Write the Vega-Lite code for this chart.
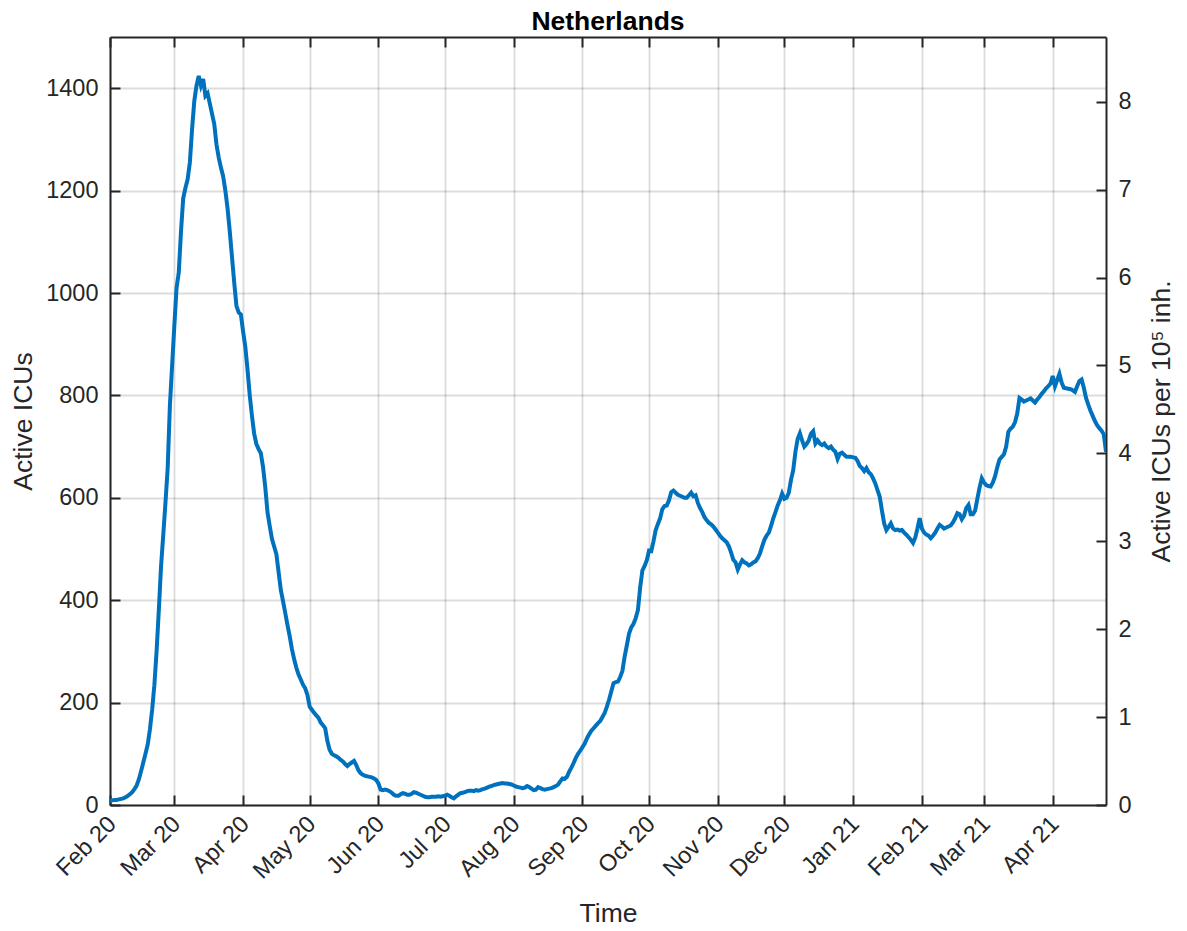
{
"$schema": "https://vega.github.io/schema/vega-lite/v6.json",
"width": 996, "height": 768,
"autosize": {"type": "none"},
"padding": {"left": 110, "top": 37, "right": 81, "bottom": 126},
"background": "white",
"title": {"text": "Netherlands", "fontSize": 26.5, "fontWeight": "bold", "font": "Liberation Sans", "color": "#000000", "anchor": "middle", "offset": 1},
"config": {
  "view": {"stroke": null},
  "axis": {"labelFont": "Liberation Sans", "titleFont": "Liberation Sans", "labelColor": "#262626", "titleColor": "#262626", "labelFontSize": 23.5, "titleFontSize": 26.5, "titleFontWeight": "normal", "domainColor": "#262626", "domainWidth": 2, "tickColor": "#262626", "tickWidth": 2, "tickSize": -10, "gridColor": "#262626", "gridOpacity": 0.16, "gridWidth": 1.8}
},
"data": {"values": [
{"t":"2020-02-01","v":8},{"t":"2020-02-02","v":9},{"t":"2020-02-03","v":10},{"t":"2020-02-04","v":10},{"t":"2020-02-05","v":11},{"t":"2020-02-06","v":12},{"t":"2020-02-07","v":13},{"t":"2020-02-08","v":15},{"t":"2020-02-09","v":18},{"t":"2020-02-10","v":21},{"t":"2020-02-11","v":25},{"t":"2020-02-12","v":31},{"t":"2020-02-13","v":38},{"t":"2020-02-14","v":50},{"t":"2020-02-15","v":66},{"t":"2020-02-16","v":83},{"t":"2020-02-17","v":100},{"t":"2020-02-18","v":118},{"t":"2020-02-19","v":148},{"t":"2020-02-20","v":186},{"t":"2020-02-21","v":234},{"t":"2020-02-22","v":300},{"t":"2020-02-23","v":380},{"t":"2020-02-24","v":465},{"t":"2020-02-25","v":527},{"t":"2020-02-26","v":590},{"t":"2020-02-27","v":658},{"t":"2020-02-28","v":780},{"t":"2020-02-29","v":858},
{"t":"2020-03-01","v":936},{"t":"2020-03-02","v":1010},{"t":"2020-03-03","v":1040},{"t":"2020-03-04","v":1120},{"t":"2020-03-05","v":1185},{"t":"2020-03-06","v":1205},{"t":"2020-03-07","v":1222},{"t":"2020-03-08","v":1255},{"t":"2020-03-09","v":1320},{"t":"2020-03-10","v":1375},{"t":"2020-03-11","v":1405},{"t":"2020-03-12","v":1424},{"t":"2020-03-13","v":1405},{"t":"2020-03-14","v":1418},{"t":"2020-03-15","v":1385},{"t":"2020-03-16","v":1390},{"t":"2020-03-17","v":1370},{"t":"2020-03-18","v":1350},{"t":"2020-03-19","v":1330},{"t":"2020-03-20","v":1290},{"t":"2020-03-21","v":1265},{"t":"2020-03-22","v":1245},{"t":"2020-03-23","v":1228},{"t":"2020-03-24","v":1200},{"t":"2020-03-25","v":1165},{"t":"2020-03-26","v":1120},{"t":"2020-03-27","v":1070},{"t":"2020-03-28","v":1020},{"t":"2020-03-29","v":975},{"t":"2020-03-30","v":962},{"t":"2020-03-31","v":958},
{"t":"2020-04-01","v":925},{"t":"2020-04-02","v":895},{"t":"2020-04-03","v":850},{"t":"2020-04-04","v":800},{"t":"2020-04-05","v":760},{"t":"2020-04-06","v":725},{"t":"2020-04-07","v":705},{"t":"2020-04-08","v":695},{"t":"2020-04-09","v":687},{"t":"2020-04-10","v":660},{"t":"2020-04-11","v":620},{"t":"2020-04-12","v":572},{"t":"2020-04-13","v":545},{"t":"2020-04-14","v":520},{"t":"2020-04-15","v":505},{"t":"2020-04-16","v":490},{"t":"2020-04-17","v":455},{"t":"2020-04-18","v":420},{"t":"2020-04-19","v":398},{"t":"2020-04-20","v":375},{"t":"2020-04-21","v":352},{"t":"2020-04-22","v":330},{"t":"2020-04-23","v":305},{"t":"2020-04-24","v":285},{"t":"2020-04-25","v":268},{"t":"2020-04-26","v":255},{"t":"2020-04-27","v":245},{"t":"2020-04-28","v":235},{"t":"2020-04-29","v":228},{"t":"2020-04-30","v":215},
{"t":"2020-05-01","v":192},{"t":"2020-05-02","v":186},{"t":"2020-05-03","v":180},{"t":"2020-05-04","v":175},{"t":"2020-05-05","v":170},{"t":"2020-05-06","v":161},{"t":"2020-05-07","v":156},{"t":"2020-05-08","v":150},{"t":"2020-05-09","v":125},{"t":"2020-05-10","v":108},{"t":"2020-05-11","v":100},{"t":"2020-05-12","v":97},{"t":"2020-05-13","v":95},{"t":"2020-05-14","v":92},{"t":"2020-05-15","v":88},{"t":"2020-05-16","v":85},{"t":"2020-05-17","v":80},{"t":"2020-05-18","v":76},{"t":"2020-05-19","v":80},{"t":"2020-05-20","v":83},{"t":"2020-05-21","v":86},{"t":"2020-05-22","v":78},{"t":"2020-05-23","v":68},{"t":"2020-05-24","v":62},{"t":"2020-05-25","v":59},{"t":"2020-05-26","v":57},{"t":"2020-05-27","v":56},{"t":"2020-05-28","v":55},{"t":"2020-05-29","v":54},{"t":"2020-05-30","v":52},{"t":"2020-05-31","v":49},
{"t":"2020-06-01","v":42},{"t":"2020-06-02","v":30},{"t":"2020-06-03","v":29},{"t":"2020-06-04","v":30},{"t":"2020-06-05","v":29},{"t":"2020-06-06","v":27},{"t":"2020-06-07","v":24},{"t":"2020-06-08","v":20},{"t":"2020-06-09","v":18},{"t":"2020-06-10","v":18},{"t":"2020-06-11","v":21},{"t":"2020-06-12","v":23},{"t":"2020-06-13","v":22},{"t":"2020-06-14","v":20},{"t":"2020-06-15","v":20},{"t":"2020-06-16","v":22},{"t":"2020-06-17","v":25},{"t":"2020-06-18","v":24},{"t":"2020-06-19","v":22},{"t":"2020-06-20","v":20},{"t":"2020-06-21","v":18},{"t":"2020-06-22","v":16},{"t":"2020-06-23","v":15},{"t":"2020-06-24","v":15},{"t":"2020-06-25","v":16},{"t":"2020-06-26","v":16},{"t":"2020-06-27","v":16},{"t":"2020-06-28","v":17},{"t":"2020-06-29","v":16},{"t":"2020-06-30","v":17},
{"t":"2020-07-01","v":18},{"t":"2020-07-02","v":20},{"t":"2020-07-03","v":18},{"t":"2020-07-04","v":15},{"t":"2020-07-05","v":13},{"t":"2020-07-06","v":17},{"t":"2020-07-07","v":20},{"t":"2020-07-08","v":23},{"t":"2020-07-09","v":24},{"t":"2020-07-10","v":25},{"t":"2020-07-11","v":27},{"t":"2020-07-12","v":28},{"t":"2020-07-13","v":28},{"t":"2020-07-14","v":27},{"t":"2020-07-15","v":29},{"t":"2020-07-16","v":28},{"t":"2020-07-17","v":29},{"t":"2020-07-18","v":31},{"t":"2020-07-19","v":32},{"t":"2020-07-20","v":34},{"t":"2020-07-21","v":36},{"t":"2020-07-22","v":37},{"t":"2020-07-23","v":39},{"t":"2020-07-24","v":40},{"t":"2020-07-25","v":41},{"t":"2020-07-26","v":42},{"t":"2020-07-27","v":43},{"t":"2020-07-28","v":42},{"t":"2020-07-29","v":42},{"t":"2020-07-30","v":41},{"t":"2020-07-31","v":40},
{"t":"2020-08-01","v":38},{"t":"2020-08-02","v":36},{"t":"2020-08-03","v":35},{"t":"2020-08-04","v":34},{"t":"2020-08-05","v":33},{"t":"2020-08-06","v":34},{"t":"2020-08-07","v":37},{"t":"2020-08-08","v":35},{"t":"2020-08-09","v":32},{"t":"2020-08-10","v":29},{"t":"2020-08-11","v":30},{"t":"2020-08-12","v":35},{"t":"2020-08-13","v":33},{"t":"2020-08-14","v":31},{"t":"2020-08-15","v":30},{"t":"2020-08-16","v":31},{"t":"2020-08-17","v":32},{"t":"2020-08-18","v":33},{"t":"2020-08-19","v":35},{"t":"2020-08-20","v":37},{"t":"2020-08-21","v":40},{"t":"2020-08-22","v":46},{"t":"2020-08-23","v":52},{"t":"2020-08-24","v":51},{"t":"2020-08-25","v":55},{"t":"2020-08-26","v":65},{"t":"2020-08-27","v":73},{"t":"2020-08-28","v":82},{"t":"2020-08-29","v":92},{"t":"2020-08-30","v":100},{"t":"2020-08-31","v":106},
{"t":"2020-09-01","v":113},{"t":"2020-09-02","v":120},{"t":"2020-09-03","v":130},{"t":"2020-09-04","v":138},{"t":"2020-09-05","v":145},{"t":"2020-09-06","v":150},{"t":"2020-09-07","v":155},{"t":"2020-09-08","v":160},{"t":"2020-09-09","v":164},{"t":"2020-09-10","v":172},{"t":"2020-09-11","v":180},{"t":"2020-09-12","v":192},{"t":"2020-09-13","v":206},{"t":"2020-09-14","v":222},{"t":"2020-09-15","v":238},{"t":"2020-09-16","v":240},{"t":"2020-09-17","v":241},{"t":"2020-09-18","v":250},{"t":"2020-09-19","v":262},{"t":"2020-09-20","v":290},{"t":"2020-09-21","v":312},{"t":"2020-09-22","v":335},{"t":"2020-09-23","v":347},{"t":"2020-09-24","v":354},{"t":"2020-09-25","v":365},{"t":"2020-09-26","v":381},{"t":"2020-09-27","v":425},{"t":"2020-09-28","v":458},{"t":"2020-09-29","v":467},{"t":"2020-09-30","v":478},
{"t":"2020-10-01","v":497},{"t":"2020-10-02","v":496},{"t":"2020-10-03","v":515},{"t":"2020-10-04","v":537},{"t":"2020-10-05","v":549},{"t":"2020-10-06","v":560},{"t":"2020-10-07","v":578},{"t":"2020-10-08","v":584},{"t":"2020-10-09","v":585},{"t":"2020-10-10","v":595},{"t":"2020-10-11","v":611},{"t":"2020-10-12","v":614},{"t":"2020-10-13","v":610},{"t":"2020-10-14","v":606},{"t":"2020-10-15","v":604},{"t":"2020-10-16","v":602},{"t":"2020-10-17","v":600},{"t":"2020-10-18","v":600},{"t":"2020-10-19","v":605},{"t":"2020-10-20","v":610},{"t":"2020-10-21","v":603},{"t":"2020-10-22","v":605},{"t":"2020-10-23","v":590},{"t":"2020-10-24","v":580},{"t":"2020-10-25","v":572},{"t":"2020-10-26","v":562},{"t":"2020-10-27","v":556},{"t":"2020-10-28","v":551},{"t":"2020-10-29","v":548},{"t":"2020-10-30","v":544},{"t":"2020-10-31","v":538},
{"t":"2020-11-01","v":532},{"t":"2020-11-02","v":526},{"t":"2020-11-03","v":521},{"t":"2020-11-04","v":517},{"t":"2020-11-05","v":513},{"t":"2020-11-06","v":505},{"t":"2020-11-07","v":493},{"t":"2020-11-08","v":479},{"t":"2020-11-09","v":474},{"t":"2020-11-10","v":460},{"t":"2020-11-11","v":470},{"t":"2020-11-12","v":478},{"t":"2020-11-13","v":474},{"t":"2020-11-14","v":472},{"t":"2020-11-15","v":468},{"t":"2020-11-16","v":470},{"t":"2020-11-17","v":474},{"t":"2020-11-18","v":476},{"t":"2020-11-19","v":482},{"t":"2020-11-20","v":491},{"t":"2020-11-21","v":505},{"t":"2020-11-22","v":518},{"t":"2020-11-23","v":526},{"t":"2020-11-24","v":532},{"t":"2020-11-25","v":545},{"t":"2020-11-26","v":560},{"t":"2020-11-27","v":572},{"t":"2020-11-28","v":585},{"t":"2020-11-29","v":595},{"t":"2020-11-30","v":608},
{"t":"2020-12-01","v":598},{"t":"2020-12-02","v":600},{"t":"2020-12-03","v":610},{"t":"2020-12-04","v":635},{"t":"2020-12-05","v":654},{"t":"2020-12-06","v":690},{"t":"2020-12-07","v":715},{"t":"2020-12-08","v":726},{"t":"2020-12-09","v":712},{"t":"2020-12-10","v":700},{"t":"2020-12-11","v":705},{"t":"2020-12-12","v":712},{"t":"2020-12-13","v":725},{"t":"2020-12-14","v":730},{"t":"2020-12-15","v":706},{"t":"2020-12-16","v":712},{"t":"2020-12-17","v":706},{"t":"2020-12-18","v":703},{"t":"2020-12-19","v":706},{"t":"2020-12-20","v":700},{"t":"2020-12-21","v":697},{"t":"2020-12-22","v":700},{"t":"2020-12-23","v":694},{"t":"2020-12-24","v":690},{"t":"2020-12-25","v":676},{"t":"2020-12-26","v":686},{"t":"2020-12-27","v":688},{"t":"2020-12-28","v":684},{"t":"2020-12-29","v":680},{"t":"2020-12-30","v":680},{"t":"2020-12-31","v":680},
{"t":"2021-01-01","v":679},{"t":"2021-01-02","v":678},{"t":"2021-01-03","v":672},{"t":"2021-01-04","v":662},{"t":"2021-01-05","v":658},{"t":"2021-01-06","v":652},{"t":"2021-01-07","v":658},{"t":"2021-01-08","v":650},{"t":"2021-01-09","v":646},{"t":"2021-01-10","v":638},{"t":"2021-01-11","v":628},{"t":"2021-01-12","v":615},{"t":"2021-01-13","v":602},{"t":"2021-01-14","v":575},{"t":"2021-01-15","v":550},{"t":"2021-01-16","v":537},{"t":"2021-01-17","v":543},{"t":"2021-01-18","v":550},{"t":"2021-01-19","v":540},{"t":"2021-01-20","v":537},{"t":"2021-01-21","v":538},{"t":"2021-01-22","v":536},{"t":"2021-01-23","v":537},{"t":"2021-01-24","v":532},{"t":"2021-01-25","v":528},{"t":"2021-01-26","v":523},{"t":"2021-01-27","v":518},{"t":"2021-01-28","v":512},{"t":"2021-01-29","v":522},{"t":"2021-01-30","v":540},{"t":"2021-01-31","v":560},
{"t":"2021-02-01","v":540},{"t":"2021-02-02","v":532},{"t":"2021-02-03","v":528},{"t":"2021-02-04","v":526},{"t":"2021-02-05","v":521},{"t":"2021-02-06","v":526},{"t":"2021-02-07","v":532},{"t":"2021-02-08","v":540},{"t":"2021-02-09","v":547},{"t":"2021-02-10","v":544},{"t":"2021-02-11","v":540},{"t":"2021-02-12","v":542},{"t":"2021-02-13","v":544},{"t":"2021-02-14","v":546},{"t":"2021-02-15","v":552},{"t":"2021-02-16","v":560},{"t":"2021-02-17","v":570},{"t":"2021-02-18","v":568},{"t":"2021-02-19","v":558},{"t":"2021-02-20","v":565},{"t":"2021-02-21","v":580},{"t":"2021-02-22","v":586},{"t":"2021-02-23","v":568},{"t":"2021-02-24","v":568},{"t":"2021-02-25","v":575},{"t":"2021-02-26","v":598},{"t":"2021-02-27","v":620},{"t":"2021-02-28","v":638},
{"t":"2021-03-01","v":630},{"t":"2021-03-02","v":625},{"t":"2021-03-03","v":623},{"t":"2021-03-04","v":622},{"t":"2021-03-05","v":630},{"t":"2021-03-06","v":642},{"t":"2021-03-07","v":660},{"t":"2021-03-08","v":675},{"t":"2021-03-09","v":680},{"t":"2021-03-10","v":685},{"t":"2021-03-11","v":700},{"t":"2021-03-12","v":729},{"t":"2021-03-13","v":735},{"t":"2021-03-14","v":739},{"t":"2021-03-15","v":748},{"t":"2021-03-16","v":765},{"t":"2021-03-17","v":795},{"t":"2021-03-18","v":792},{"t":"2021-03-19","v":788},{"t":"2021-03-20","v":790},{"t":"2021-03-21","v":792},{"t":"2021-03-22","v":794},{"t":"2021-03-23","v":790},{"t":"2021-03-24","v":786},{"t":"2021-03-25","v":792},{"t":"2021-03-26","v":797},{"t":"2021-03-27","v":803},{"t":"2021-03-28","v":808},{"t":"2021-03-29","v":814},{"t":"2021-03-30","v":818},{"t":"2021-03-31","v":823},
{"t":"2021-04-01","v":838},{"t":"2021-04-02","v":818},{"t":"2021-04-03","v":830},{"t":"2021-04-04","v":842},{"t":"2021-04-05","v":825},{"t":"2021-04-06","v":815},{"t":"2021-04-07","v":814},{"t":"2021-04-08","v":813},{"t":"2021-04-09","v":812},{"t":"2021-04-10","v":810},{"t":"2021-04-11","v":807},{"t":"2021-04-12","v":818},{"t":"2021-04-13","v":828},{"t":"2021-04-14","v":831},{"t":"2021-04-15","v":815},{"t":"2021-04-16","v":795},{"t":"2021-04-17","v":782},{"t":"2021-04-18","v":770},{"t":"2021-04-19","v":760},{"t":"2021-04-20","v":750},{"t":"2021-04-21","v":742},{"t":"2021-04-22","v":736},{"t":"2021-04-23","v":731},{"t":"2021-04-24","v":724},{"t":"2021-04-25","v":690}
]},
"layer": [
  {
    "mark": {"type": "line", "color": "#0072BD", "strokeWidth": 4, "clip": true},
    "encoding": {
      "x": {"field": "t", "type": "temporal",
        "scale": {"type": "utc", "domain": [{"year": 2020, "month": 2, "date": 1, "utc": true}, {"year": 2021, "month": 4, "date": 25, "utc": true}]},
        "axis": {"orient": "bottom", "title": "Time", "format": "%b %y", "labelAngle": -45, "labelAlign": "right", "labelBaseline": "middle", "labelPadding": 25, "labelOffset": 2, "labelOverlap": false, "labelFlush": false, "titlePadding": 18, "grid": true,
          "values": [{"year":2020,"month":2,"date":1,"utc":true},{"year":2020,"month":3,"date":1,"utc":true},{"year":2020,"month":4,"date":1,"utc":true},{"year":2020,"month":5,"date":1,"utc":true},{"year":2020,"month":6,"date":1,"utc":true},{"year":2020,"month":7,"date":1,"utc":true},{"year":2020,"month":8,"date":1,"utc":true},{"year":2020,"month":9,"date":1,"utc":true},{"year":2020,"month":10,"date":1,"utc":true},{"year":2020,"month":11,"date":1,"utc":true},{"year":2020,"month":12,"date":1,"utc":true},{"year":2021,"month":1,"date":1,"utc":true},{"year":2021,"month":2,"date":1,"utc":true},{"year":2021,"month":3,"date":1,"utc":true},{"year":2021,"month":4,"date":1,"utc":true}]}},
      "y": {"field": "v", "type": "quantitative", "scale": {"domain": [0, 1500], "nice": false},
        "axis": {"orient": "left", "title": "Active ICUs", "format": "d", "values": [0, 200, 400, 600, 800, 1000, 1200, 1400], "grid": true, "labelPadding": 22, "titlePadding": 8}}
    }
  },
  {
    "mark": {"type": "line", "opacity": 0, "clip": true},
    "encoding": {
      "x": {"field": "t", "type": "temporal",
        "axis": {"orient": "top", "title": null, "labels": false, "grid": false,
          "values": [{"year":2020,"month":2,"date":1,"utc":true},{"year":2020,"month":3,"date":1,"utc":true},{"year":2020,"month":4,"date":1,"utc":true},{"year":2020,"month":5,"date":1,"utc":true},{"year":2020,"month":6,"date":1,"utc":true},{"year":2020,"month":7,"date":1,"utc":true},{"year":2020,"month":8,"date":1,"utc":true},{"year":2020,"month":9,"date":1,"utc":true},{"year":2020,"month":10,"date":1,"utc":true},{"year":2020,"month":11,"date":1,"utc":true},{"year":2020,"month":12,"date":1,"utc":true},{"year":2021,"month":1,"date":1,"utc":true},{"year":2021,"month":2,"date":1,"utc":true},{"year":2021,"month":3,"date":1,"utc":true},{"year":2021,"month":4,"date":1,"utc":true}]}},
      "y": {"field": "v", "type": "quantitative", "scale": {"domain": [0, 8.736], "nice": false},
        "axis": {"orient": "right", "title": "Active ICUs per 10⁵ inh.", "values": [0, 1, 2, 3, 4, 5, 6, 7, 8], "grid": false, "labelPadding": 22, "titlePadding": 17, "titleAngle": 270, "titleBaseline": "top"}}
    }
  }
],
"resolve": {"scale": {"y": "independent"}, "axis": {"x": "independent", "y": "independent"}}
}
